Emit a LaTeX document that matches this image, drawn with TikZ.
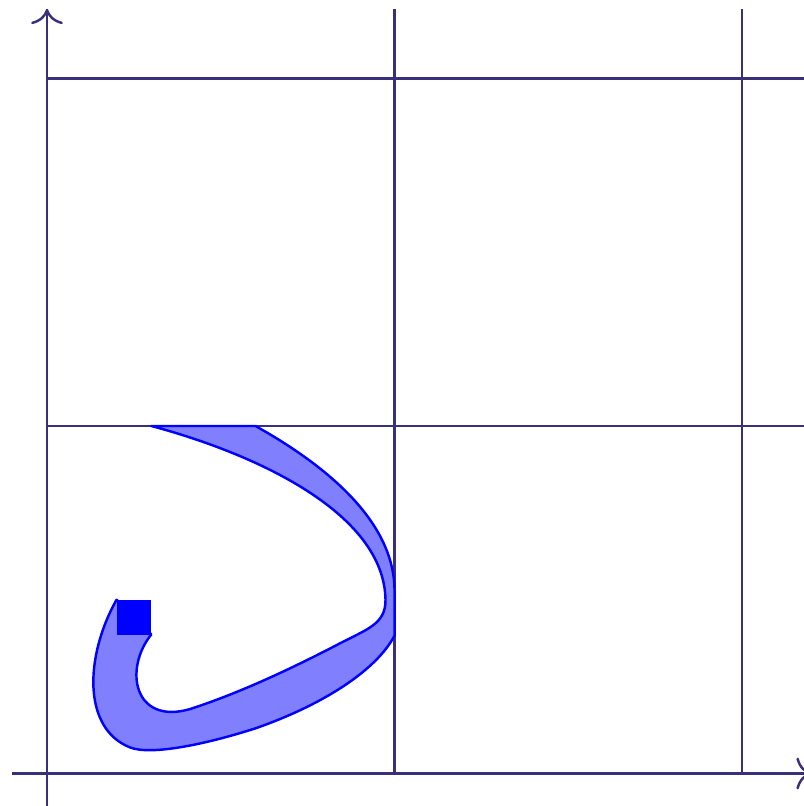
\documentclass[tikz,border=0pt]{standalone}
\usetikzlibrary{arrows.meta}
\definecolor{gridink}{RGB}{58,48,122}

\begin{document}
\begin{tikzpicture}[
  scale=2,
  axisline/.style={draw=gridink,->},
  gridline/.style={draw=gridink},
  band/.style={draw=blue,fill=blue!50,line join=round},
  marker/.style={fill=blue},
]

\useasboundingbox (-0.1353,-0.0935) rectangle (2.178,2.2258);

% Grid and axes
\draw[gridline,step=1] (0,0) grid (2.2,2.2);
\draw[axisline] (-0.1,0) -- (2.2,0);
\draw[axisline] (0,-0.1) -- (0,2.2);

% Swept band, cut at the cell border
\draw[band] (0.2,0.5)
  .. controls (0.11,0.34) and (0.1,0.13) .. (0.239,0.075)
  .. controls (0.3,0.051) and (0.46,0.085) .. (0.6,0.13)
  .. controls (0.8,0.2) and (0.95,0.3) .. (1,0.397)
  -- (1,0.526)
  .. controls (1,0.7) and (0.85,0.86) .. (0.6,1)
  -- (0.3,1)
  .. controls (0.6,0.92) and (0.97,0.75) .. (0.974,0.5)
  .. controls (0.975,0.43) and (0.92,0.415) .. (0.842,0.374)
  .. controls (0.7,0.3) and (0.55,0.23) .. (0.41,0.185)
  .. controls (0.25,0.14) and (0.22,0.3) .. (0.3,0.4)
  -- cycle;

% Start marker
\fill[marker] (0.2,0.4) rectangle (0.3,0.5);

\end{tikzpicture}
\end{document}
